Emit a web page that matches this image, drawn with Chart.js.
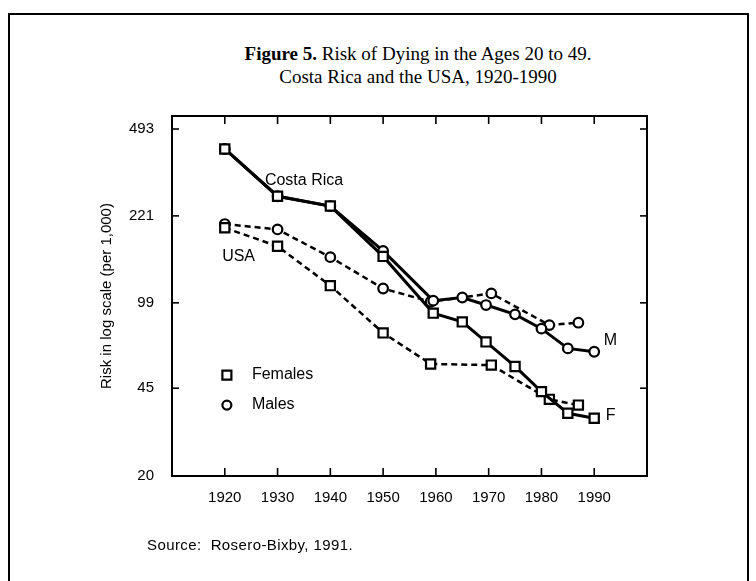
<!DOCTYPE html>
<html>
<head>
<meta charset="utf-8">
<title>Figure 5</title>
<script src="https://cdn.jsdelivr.net/npm/chart.js@4/dist/chart.umd.min.js"></script>
<style>
  html, body { margin: 0; padding: 0; background: #fff; }
  #wrap { position: relative; width: 756px; height: 581px; overflow: hidden; }
  #frame { position: absolute; left: 8px; top: 13px; width: 741px; height: 620px;
           border: 2px solid #000; border-bottom: none; box-sizing: border-box; }
  #title { position: absolute; left: 0; width: 836px; top: 42px; text-align: center;
           font-family: "Liberation Serif", "Times New Roman", serif; font-size: 19px;
           line-height: 23px; color: #000; }
  #source { position: absolute; left: 147px; top: 536px; font-family: "Liberation Sans", Arial, sans-serif;
            font-size: 15px; letter-spacing: 0.4px; color: #000; white-space: pre; }
  canvas { position: absolute; left: 0; top: 0; }
</style>
</head>
<body>
<div id="wrap">
  <div id="frame"></div>
  <div id="title"><b>Figure 5.</b> Risk of Dying in the Ages 20 to 49.<br>Costa Rica and the USA, 1920-1990</div>
  <canvas id="chart" width="756" height="581"></canvas>
  <div id="source">Source:  Rosero-Bixby, 1991.</div>
</div>
<script>
// ── Data ──────────────────────────────────────────────────────────────────────
const crYears    = [1920, 1930, 1940, 1950, 1959.5, 1965, 1969.5, 1975, 1980, 1985, 1990];
const crFemales  = [410, 265, 242, 152, 90, 83, 69, 55, 43.6, 35.7, 34.1];
const crMales    = [410, 265, 242, 160, 101, 104, 97, 89, 78, 65, 63];
const usaYears   = [1920, 1930, 1940, 1950, 1959, 1970.5, 1981.5, 1987];
const usaFemales = [198, 167, 116, 75, 56.3, 55.7, 40.6, 38.5];
const usaMales   = [205, 195, 151, 113, 100, 108, 80.6, 82.4];

const xTicks = [1920, 1930, 1940, 1950, 1960, 1970, 1980, 1990];
const yTicks = [20, 45, 99, 221, 493];

const legendLabels = ['Females', 'Males'];
const yTitle = 'Risk in log scale (per 1,000)';

// ── Helpers ───────────────────────────────────────────────────────────────────
const pts = (xs, ys) => xs.map((x, i) => ({ x, y: ys[i] }));
const FONT = '"Liberation Sans", Arial, sans-serif';

function series(data, style, solid) {
  return {
    data,
    borderColor: '#000',
    borderWidth: solid ? 3 : 2.5,
    borderDash: solid ? [] : [6, 4],
    tension: 0,
    pointStyle: style,
    pointRadius: style === 'rect' ? 6.5 : 4.8,
    pointBorderWidth: 2.2,
    pointBorderColor: '#000',
    pointBackgroundColor: '#fff',
  };
}

// frame + inward tick marks on all four sides
const framePlugin = {
  id: 'frame',
  afterDraw(chart) {
    const { ctx, chartArea: a, scales: { x, y } } = chart;
    const seg = (x1, y1, x2, y2) => { ctx.beginPath(); ctx.moveTo(x1, y1); ctx.lineTo(x2, y2); ctx.stroke(); };
    ctx.save();
    ctx.strokeStyle = '#000';
    ctx.lineWidth = 1.6;
    x.ticks.forEach(t => {
      const px = x.getPixelForValue(t.value);
      seg(px, a.bottom, px, a.bottom - 8);
      seg(px, a.top, px, a.top + 8);
    });
    y.ticks.forEach(t => {
      const py = y.getPixelForValue(t.value);
      seg(a.left, py, a.left + 7, py);
      seg(a.right, py, a.right - 7, py);
    });
    ctx.lineWidth = 2;
    ctx.strokeRect(a.left, a.top, a.right - a.left, a.bottom - a.top);
    ctx.restore();
  }
};

// in-plot labels and the legend, placed in data coordinates
const notes = [
  { text: 'Costa Rica', x: 1927.6, y: 305 },
  { text: 'USA',        x: 1919.5, y: 152 },
  { text: 'M',          x: 1991.8, y: 70 },
  { text: 'F',          x: 1992.2, y: 35 },
];
const legendPos = [
  { x: 1920.4, y: 50.8, style: 'rect' },
  { x: 1920.4, y: 38.5, style: 'circle' },
];

const notesPlugin = {
  id: 'notes',
  afterDatasetsDraw(chart) {
    const { ctx, scales: { x, y } } = chart;
    ctx.save();
    ctx.fillStyle = '#000';
    ctx.font = '16px ' + FONT;
    ctx.textBaseline = 'middle';
    ctx.textAlign = 'left';
    notes.forEach(n => ctx.fillText(n.text, x.getPixelForValue(n.x), y.getPixelForValue(n.y)));

    legendPos.forEach((p, i) => {
      const px = x.getPixelForValue(p.x), py = y.getPixelForValue(p.y);
      ctx.lineWidth = 2.2;
      ctx.strokeStyle = '#000';
      ctx.beginPath();
      if (p.style === 'rect') ctx.rect(px - 4.5, py - 4.5, 9, 9);
      else ctx.arc(px, py, 4.5, 0, Math.PI * 2);
      ctx.stroke();
      ctx.fillText(legendLabels[i], px + 25, py);
    });
    ctx.restore();
  }
};

// ── Chart ─────────────────────────────────────────────────────────────────────
new Chart(document.getElementById('chart'), {
  type: 'line',
  data: {
    datasets: [
      series(pts(crYears, crFemales), 'rect', true),
      series(pts(crYears, crMales), 'circle', true),
      series(pts(usaYears, usaFemales), 'rect', false),
      series(pts(usaYears, usaMales), 'circle', false),
    ]
  },
  options: {
    responsive: false,
    animation: false,
    layout: { padding: { top: 116, right: 109, left: 0, bottom: 0 } },
    plugins: { legend: { display: false }, tooltip: { enabled: false } },
    scales: {
      x: {
        type: 'linear', min: 1910, max: 2000,
        afterBuildTicks: s => { s.ticks = xTicks.map(v => ({ value: v })); },
        afterFit: s => { s.height = 105; },
        grid: { display: false, drawTicks: false },
        border: { display: false },
        ticks: { color: '#000', padding: 13, font: { family: FONT, size: 15 }, callback: v => String(v), maxRotation: 0 }
      },
      y: {
        type: 'logarithmic', min: 20, max: 556,
        afterBuildTicks: s => { s.ticks = yTicks.map(v => ({ value: v })); },
        afterFit: s => { s.width = 172; },
        grid: { display: false, drawTicks: false },
        border: { display: false },
        ticks: { color: '#000', padding: 18, font: { family: FONT, size: 15 }, callback: v => String(v) },
        title: { display: true, text: yTitle, color: '#000', font: { family: FONT, size: 15 }, padding: { top: 98, bottom: 0 } }
      }
    }
  },
  plugins: [framePlugin, notesPlugin]
});
</script>
</body>
</html>
